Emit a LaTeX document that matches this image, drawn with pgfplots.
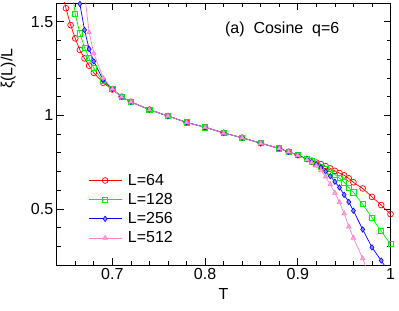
\documentclass[border=0pt]{standalone}
\usepackage{fontspec}
\setmainfont{Liberation Sans}
\usepackage{pgfplots}
\pgfplotsset{compat=1.18}
\usepackage{pgfplotstable}
\definecolor{pinkc}{RGB}{255,128,200}
\definecolor{greenc}{RGB}{0,240,0}

\pgfplotstableread{
T v
0.645 1.68
0.65 1.572
0.655 1.482
0.66 1.411
0.665 1.349
0.67 1.304
0.675 1.265
0.68 1.227
0.69 1.174
0.70 1.138
0.71 1.099
0.72 1.072
0.74 1.030
0.76 0.996
0.78 0.962
0.80 0.936
0.82 0.906
0.84 0.880
0.86 0.851
0.88 0.823
0.89 0.805
0.90 0.787
0.91 0.767
0.915 0.757
0.92 0.747
0.925 0.739
0.93 0.728
0.935 0.716
0.94 0.703
0.945 0.691
0.95 0.679
0.955 0.663
0.96 0.642
0.97 0.609
0.98 0.564
0.99 0.520
1.00 0.472
}\dataA

\pgfplotstableread{
T v
0.655 1.72
0.66 1.541
0.665 1.438
0.67 1.362
0.675 1.305
0.68 1.252
0.69 1.182
0.70 1.140
0.71 1.099
0.72 1.072
0.74 1.030
0.76 0.996
0.78 0.962
0.80 0.936
0.82 0.906
0.84 0.880
0.86 0.851
0.88 0.823
0.89 0.805
0.90 0.787
0.91 0.766
0.915 0.754
0.92 0.740
0.925 0.726
0.93 0.712
0.935 0.698
0.94 0.684
0.945 0.664
0.95 0.642
0.955 0.614
0.96 0.588
0.97 0.525
0.98 0.453
0.99 0.381
1.00 0.311
}\dataB

\pgfplotstableread{
T v
0.66 1.95
0.665 1.595
0.67 1.456
0.675 1.354
0.68 1.288
0.69 1.190
0.70 1.141
0.71 1.099
0.72 1.072
0.74 1.030
0.76 0.996
0.78 0.962
0.80 0.936
0.82 0.906
0.84 0.880
0.86 0.851
0.88 0.823
0.89 0.805
0.90 0.787
0.91 0.765
0.915 0.752
0.92 0.738
0.925 0.721
0.93 0.700
0.935 0.675
0.94 0.645
0.945 0.614
0.95 0.575
0.955 0.537
0.96 0.490
0.97 0.390
0.98 0.294
0.99 0.224
1.00 0.150
}\dataC

\pgfplotstableread{
T v
0.67 1.65
0.675 1.443
0.68 1.331
0.69 1.200
0.70 1.142
0.71 1.099
0.72 1.072
0.74 1.030
0.76 0.996
0.78 0.962
0.80 0.936
0.82 0.906
0.84 0.880
0.86 0.851
0.88 0.823
0.89 0.805
0.90 0.786
0.91 0.762
0.915 0.747
0.92 0.730
0.925 0.705
0.93 0.672
0.935 0.630
0.94 0.585
0.945 0.535
0.95 0.475
0.955 0.405
0.96 0.345
0.97 0.235
0.98 0.100
}\dataD

\begin{document}
\begin{tikzpicture}
\begin{axis}[
  name=ax,
  scale only axis,
  width=333.8bp, height=262bp,
  xmin=0.64, xmax=1, ymin=0.2, ymax=1.6,
  xtick={0.7,0.8,0.9,1}, xticklabels={0.7,0.8,0.9,1},
  minor xtick={0.66,0.68,0.72,0.74,0.76,0.78,0.82,0.84,0.86,0.88,0.92,0.94,0.96,0.98},
  ytick={0.5,1,1.5}, yticklabels={0.5,1,1.5},
  minor ytick={0.3,0.4,0.6,0.7,0.8,0.9,1.1,1.2,1.3,1.4},
  tick align=inside,
  major tick length=7bp, minor tick length=4bp,
  tick style={black, line width=0.6bp},
  axis line style={line width=0.8bp},
  ticklabel style={font=\fontsize{16bp}{18bp}\selectfont},
  /pgf/number format/assume math mode=true,
  xlabel={T},
  ylabel={ξ(L)/L},
  label style={font=\fontsize{16bp}{18bp}\selectfont},
  xlabel style={yshift=-2bp},
  ylabel style={at={(axis description cs:-0.145,0.75)}, anchor=center},
  legend style={draw=none, fill=none, at={(axis description cs:0.094,0.355)}, anchor=north west,
    font=\fontsize{16bp}{18bp}\selectfont, row sep=2.5bp, column sep=4bp, inner sep=0pt},
  legend cell align=left,
  legend image code/.code={\draw[mark repeat=2,mark phase=2] plot coordinates {(0bp,0bp)(16.5bp,0bp)(33bp,0bp)};},
]
\addplot[red, line width=0.7bp, mark=o, mark size=2.9bp, mark options={line width=0.7bp}] table[x=T,y=v] {\dataA};
\addlegendentry{L=64}
\addplot[greenc, line width=0.7bp, mark=square, mark size=2.6bp, mark options={line width=0.7bp}] table[x=T,y=v] {\dataB};
\addlegendentry{L=128}
\addplot[blue, line width=0.7bp, mark=diamond*, mark size=2.7bp, mark options={line width=0.6bp, fill=blue!45}] table[x=T,y=v] {\dataC};
\addlegendentry{L=256}
\addplot[pinkc, line width=0.7bp, mark=triangle*, mark size=2.7bp, mark options={line width=0.6bp, fill=pinkc!70}] table[x=T,y=v] {\dataD};
\addlegendentry{L=512}
\node[anchor=west, font=\fontsize{16bp}{18bp}\selectfont] at (axis description cs:0.494,0.90) {(a)\ \ Cosine\ \ q=6};
\end{axis}
\pgfresetboundingbox
\path[use as bounding box] (ax.south west) ++(-56.7bp,-46bp) rectangle ++(399bp,311bp);
\end{tikzpicture}
\end{document}
